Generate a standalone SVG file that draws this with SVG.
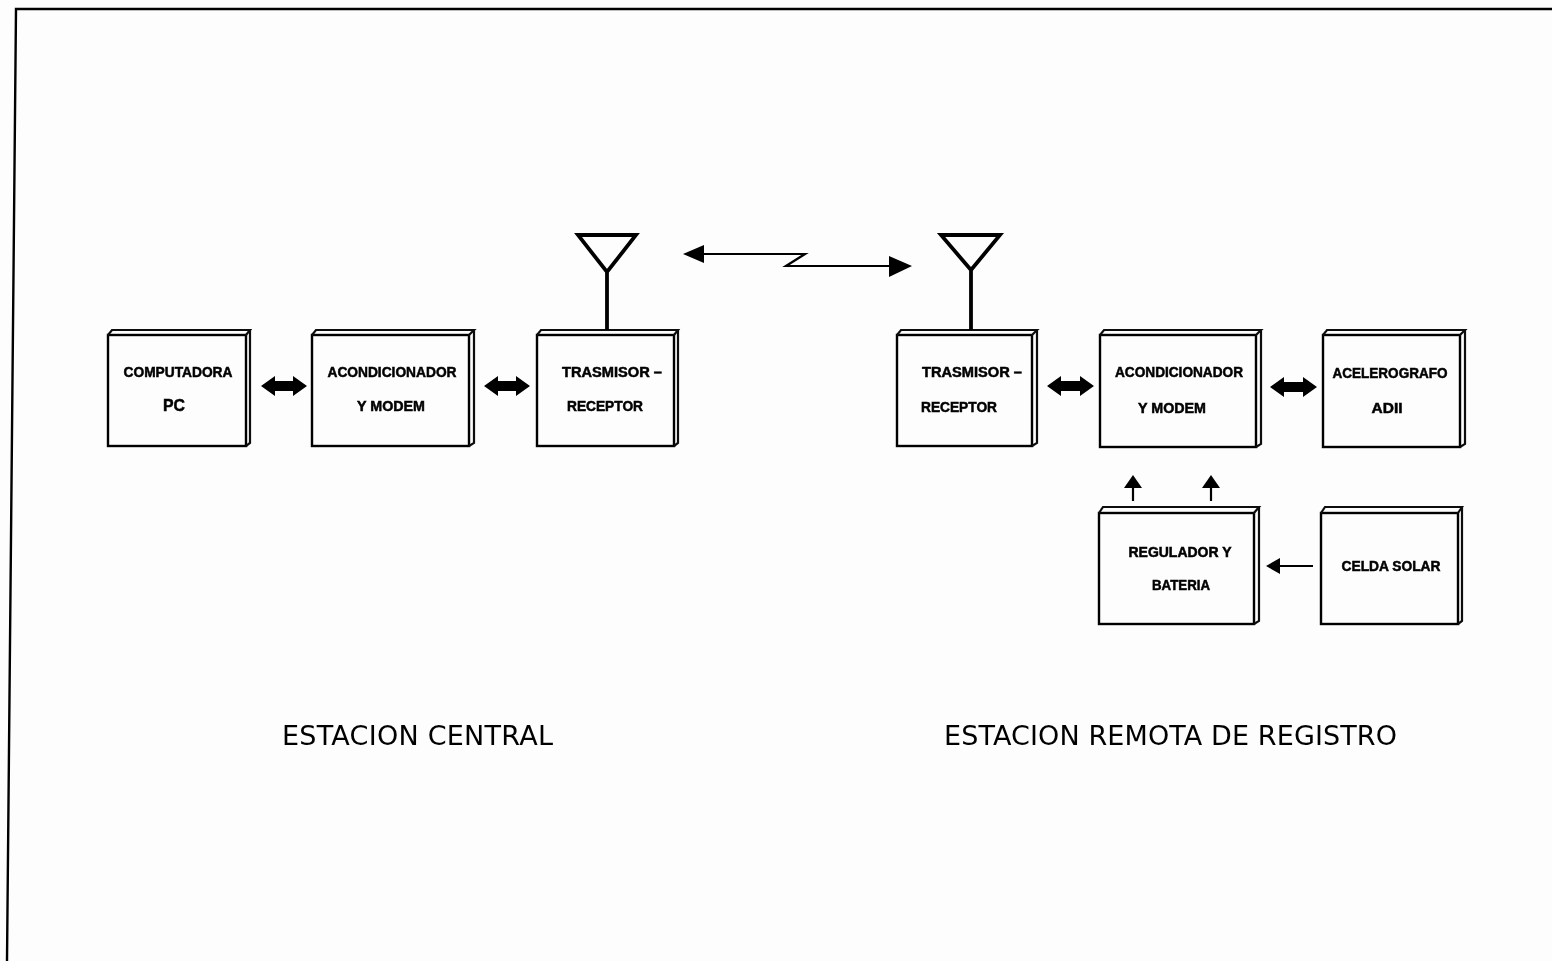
<svg xmlns="http://www.w3.org/2000/svg" width="1552" height="961" viewBox="0 0 1552 961">
<style>
.b{fill:none;stroke:#000;stroke-width:2.4}
.e{fill:none;stroke:#111;stroke-width:2.2}
.t{font-family:"Liberation Sans",Arial,sans-serif;font-size:14px;font-weight:700;fill:#000;stroke:#000;stroke-width:.5;text-anchor:middle}
.c{font-family:"DejaVu Sans",sans-serif;font-size:27px;fill:#000;text-anchor:middle}
.l{fill:none;stroke:#000}
.h{fill:#000;stroke:none}
</style>
<defs><filter id="soft" filterUnits="userSpaceOnUse" x="0" y="0" width="1552" height="961"><feGaussianBlur stdDeviation="0.55"/></filter></defs>
<rect width="1552" height="961" fill="#fdfdfd"/>
<g filter="url(#soft)">
<g id="frame"><path d="M1552 9H16L7 961" fill="none" stroke="#000" stroke-width="2.4"/></g>
<g id="computadora"><rect class="b" x="108" y="335" width="138" height="111"/><path class="e" d="M108 335L112 330H250L246 335M250 330V443L246 446"/><text class="t" x="178" y="377" textLength="109" lengthAdjust="spacingAndGlyphs">COMPUTADORA</text><text class="t" x="174" y="411" textLength="22" lengthAdjust="spacingAndGlyphs" style="font-size:17px">PC</text></g>
<g id="acond1"><rect class="b" x="312" y="335" width="157" height="111"/><path class="e" d="M312 335L316 330H474L469 335M474 330V443L469 446"/><text class="t" x="392" y="377" textLength="129" lengthAdjust="spacingAndGlyphs">ACONDICIONADOR</text><text class="t" x="391" y="411" textLength="68" lengthAdjust="spacingAndGlyphs">Y MODEM</text></g>
<g id="trasmisor1"><rect class="b" x="537" y="335" width="137" height="111"/><path class="e" d="M537 335L541 330H678L674 335M678 330V443L674 446"/><text class="t" x="612" y="377" textLength="100" lengthAdjust="spacingAndGlyphs">TRASMISOR –</text><text class="t" x="605" y="411" textLength="76" lengthAdjust="spacingAndGlyphs">RECEPTOR</text></g>
<g id="trasmisor2"><rect class="b" x="897" y="335" width="135" height="111"/><path class="e" d="M897 335L901 330H1037L1032 335M1037 330V443L1032 446"/><text class="t" x="972" y="377" textLength="100" lengthAdjust="spacingAndGlyphs">TRASMISOR –</text><text class="t" x="959" y="412" textLength="76" lengthAdjust="spacingAndGlyphs">RECEPTOR</text></g>
<g id="acond2"><rect class="b" x="1100" y="335" width="156" height="112"/><path class="e" d="M1100 335L1104 330H1261L1256 335M1261 330V444L1256 447"/><text class="t" x="1179" y="377" textLength="128" lengthAdjust="spacingAndGlyphs">ACONDICIONADOR</text><text class="t" x="1172" y="413" textLength="68" lengthAdjust="spacingAndGlyphs">Y MODEM</text></g>
<g id="acelerografo"><rect class="b" x="1323" y="335" width="137" height="112"/><path class="e" d="M1323 335L1327 330H1465L1460 335M1465 330V444L1460 447"/><text class="t" x="1390" y="378" textLength="115" lengthAdjust="spacingAndGlyphs">ACELEROGRAFO</text><text class="t" x="1387" y="413" textLength="31" lengthAdjust="spacingAndGlyphs" style="font-size:15px">ADII</text></g>
<g id="regulador"><rect class="b" x="1099" y="513" width="155" height="111"/><path class="e" d="M1099 513L1103 507H1259L1254 513M1259 507V621L1254 624"/><text class="t" x="1180" y="557" textLength="103" lengthAdjust="spacingAndGlyphs">REGULADOR Y</text><text class="t" x="1181" y="590" textLength="58" lengthAdjust="spacingAndGlyphs">BATERIA</text></g>
<g id="celda"><rect class="b" x="1321" y="513" width="137" height="111"/><path class="e" d="M1321 513L1325 507H1462L1458 513M1462 507V621L1458 624"/><text class="t" x="1391" y="571" textLength="99" lengthAdjust="spacingAndGlyphs">CELDA SOLAR</text></g>
<g id="antena1"><path d="M578 235H636L607 272ZM607 272V330" fill="none" stroke="#000" stroke-width="3.8"/></g>
<g id="antena2"><path d="M941 235H1000L971 270ZM971 270V330" fill="none" stroke="#000" stroke-width="3.8"/></g>
<g id="connectors">
<path class="h" d="M261 386L275 376V381H293V376L307 386L293 396V391H275V396Z"/>
<path class="h" d="M484 386L498 376V381H516V376L530 386L516 396V391H498V396Z"/>
<path class="h" d="M1047 386L1061 376V381H1080V376L1094 386L1080 396V391H1061V396Z"/>
<path class="h" d="M1270 387L1284 377V382H1303V377L1317 387L1303 397V392H1284V397Z"/>
<path class="l" stroke-width="2.2" d="M700 254H805L786 266H890"/>
<path class="h" d="M683 254L704 245V263Z"/><path class="h" d="M912 266L889 256V277Z"/>
<path class="l" stroke-width="2.2" d="M1133 501V485M1211 501V485"/>
<path class="h" d="M1133 475L1124 488H1142Z"/><path class="h" d="M1211 475L1202 488H1220Z"/>
<path class="l" stroke-width="2.2" d="M1313 566H1280"/>
<path class="h" d="M1266 566L1280 558V574Z"/>
</g>
<g id="labels"><text class="c" x="417.500" y="745" textLength="271" lengthAdjust="spacing">ESTACION CENTRAL</text><text class="c" x="1170.500" y="745" textLength="453" lengthAdjust="spacing">ESTACION REMOTA DE REGISTRO</text></g>
</g>
</svg>
